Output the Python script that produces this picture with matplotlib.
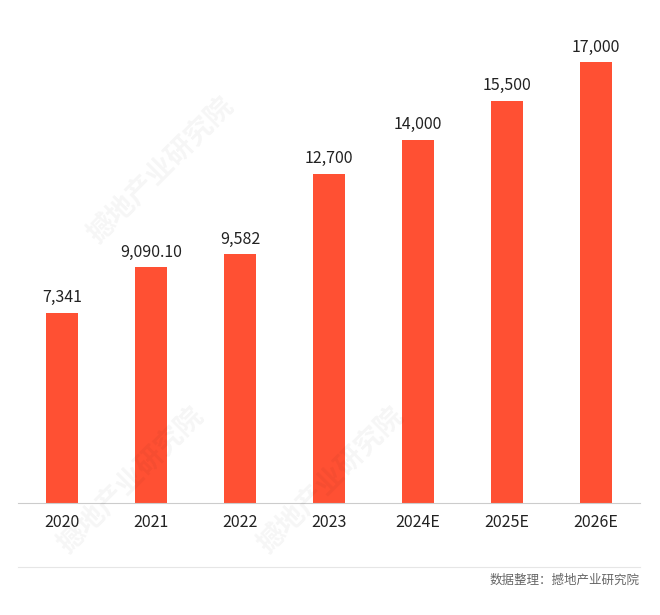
import matplotlib
matplotlib.use("Agg")
import matplotlib.pyplot as plt

categories = ["2020", "2021", "2022", "2023", "2024E", "2025E", "2026E"]
values = [7341, 9090.10, 9582, 12700, 14000, 15500, 17000]
labels = ["7,341", "9,090.10", "9,582", "12,700", "14,000", "15,500", "17,000"]

plt.rcParams["font.family"] = ["Noto Sans CJK SC", "DejaVu Sans"]
fig = plt.figure(figsize=(6.6, 6.15), dpi=100)
ax = fig.add_axes([18/660, 112/615, 622/660, 483/615])
x = range(len(categories))
ax.bar(x, values, width=0.36, color="#FF5033")
for i, (v, l) in enumerate(zip(values, labels)):
    ax.text(i, v + 250, l, ha="center", va="bottom", fontsize=11.5, color="#222222")
ax.set_xlim(-0.5, 6.5)
ax.set_ylim(0, 17000 * 483 / 441)
ax.set_xticks(list(x))
ax.set_xticklabels(categories, fontsize=11.5, color="#222222")
ax.tick_params(axis="x", length=0, pad=8)
ax.set_yticks([])
for s in ["top", "right", "left"]:
    ax.spines[s].set_visible(False)
ax.spines["bottom"].set_color("#cccccc")

fig.add_artist(plt.Line2D([18/660, 640/660], [1 - 567/615] * 2, color="#e6e6e6", lw=0.8))
fig.text(640/660, 1 - 580/615, "数据整理：撼地产业研究院", ha="right", va="center", fontsize=9, color="#666666")

for (px, py) in [(160, 170), (130, 480), (330, 480)]:
    fig.text(px/660, 1 - py/615, "撼地产业研究院", rotation=45, fontsize=20,
             color="#000000", alpha=0.04, ha="center", va="center", fontweight="bold")

fig.savefig("out.png", dpi=100)
